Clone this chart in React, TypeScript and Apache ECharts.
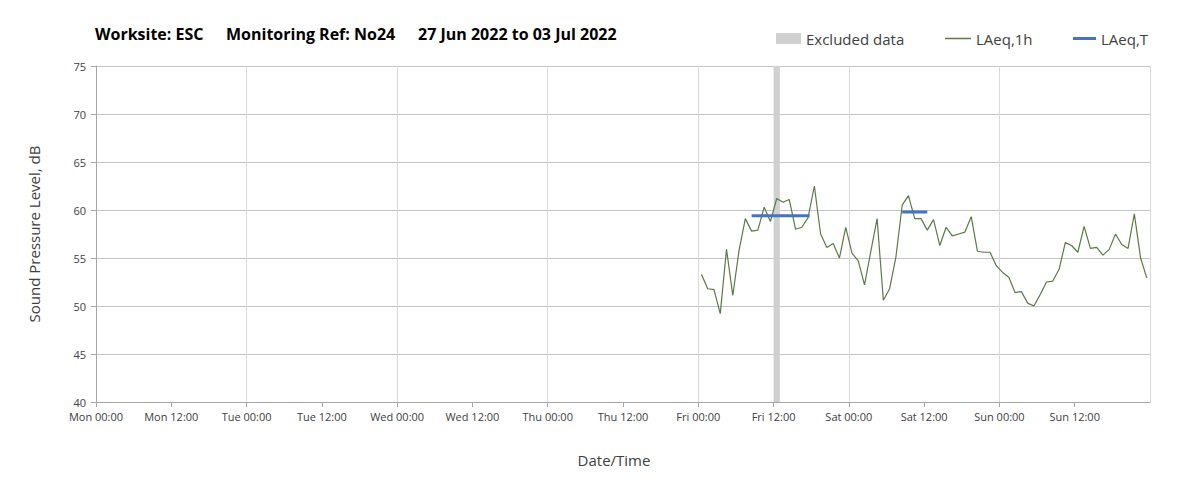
import React, { useEffect, useRef } from "react";
import * as echarts from "echarts";

// Hourly LAeq,1h values, Fri 00:00-01:00 ... Sun 23:00-24:00 (plotted at mid-hour)
const laeq1hStartHour = 96.5; // hours since Mon 00:00
const laeq1h = [
  53.3, 51.8, 51.7, 49.2, 55.9, 51.1, 55.8, 59.1, 57.8, 57.9, 60.3, 58.8,
  61.2, 60.8, 61.1, 58.0, 58.2, 59.2, 62.5, 57.5, 56.1, 56.5, 55.0, 58.2,
  55.5, 54.7, 52.2, 55.7, 59.1, 50.6, 51.8, 55.1, 60.5, 61.5, 59.1, 59.1,
  57.9, 59.0, 56.3, 58.2, 57.3, 57.5, 57.7, 59.3, 55.7, 55.6, 55.6, 54.2,
  53.5, 53.0, 51.4, 51.5, 50.3, 50.0, 51.2, 52.5, 52.6, 53.8, 56.6, 56.3,
  55.6, 58.3, 56.0, 56.1, 55.3, 55.9, 57.5, 56.4, 56.0, 59.6, 55.0, 52.9,
];

// LAeq,T periods: [startHour, endHour, value]
const laeqTPeriods: [number, number, number][] = [
  [104.5, 113.75, 59.4],
  [128.5, 132.5, 59.8],
];

// Excluded data periods: [startHour, endHour]
const excludedPeriods: [number, number][] = [[108, 109]];

const dayNames = ["Mon", "Tue", "Wed", "Thu", "Fri", "Sat", "Sun", "Mon"];
const yTicks = { min: 40, max: 75, interval: 5 };

const titleParts = [
  { text: "Worksite: ESC", x: 95 },
  { text: "Monitoring Ref: No24", x: 226 },
  { text: "27 Jun 2022 to 03 Jul 2022", x: 418 },
];

const FONT = "'Open Sans', Lato, sans-serif";

export default function App() {
  const ref = useRef<HTMLDivElement>(null);
  useEffect(() => {
    if (!ref.current) return;
    const chart = echarts.init(ref.current, null, { renderer: "svg" });

    const lineData = laeq1h.map((v, i) => [laeq1hStartHour + i, v]);
    const tData: any[] = [];
    laeqTPeriods.forEach(([s, e, v], i) => {
      if (i > 0) tData.push([s - 0.01, "-"]);
      tData.push([s, v]);
      tData.push([e, v]);
    });

    const legendText = { fontSize: 15, color: "#404040", fontFamily: FONT };
    const option: any = {
      animation: false,
      backgroundColor: "#fff",
      textStyle: { fontFamily: FONT },
      grid: { left: 96, right: 53, top: 66, bottom: 96, containLabel: false },
      legend: [
        {
          data: ["Excluded data"],
          left: 776,
          top: 31,
          padding: 0,
          icon: "rect",
          itemWidth: 25,
          itemHeight: 11,
          textStyle: legendText,
        },
        {
          data: ["LAeq,1h"],
          left: 945,
          top: 31,
          padding: 0,
          icon: "rect",
          itemWidth: 26,
          itemHeight: 1.5,
          textStyle: legendText,
        },
        {
          data: ["LAeq,T"],
          left: 1073,
          top: 31,
          padding: 0,
          icon: "rect",
          itemWidth: 23,
          itemHeight: 3,
          textStyle: legendText,
        },
      ],
      xAxis: [
        {
          type: "value",
          min: 0,
          max: 168,
          interval: 12,
          name: "Date/Time",
          nameLocation: "middle",
          nameGap: 50,
          nameTextStyle: {
            fontSize: 15,
            color: "#404040",
            fontFamily: FONT,
            padding: [0, 18, 0, 0],
          },
          axisLine: { show: true, lineStyle: { color: "#a6a6a6" } },
          axisTick: { show: true, length: 5, lineStyle: { color: "#a6a6a6" } },
          axisLabel: {
            showMaxLabel: false,
            fontSize: 11,
            color: "#404040",
            margin: 9,
            fontFamily: FONT,
            formatter: (v: number) =>
              dayNames[Math.floor(v / 24)] + (v % 24 === 0 ? " 00:00" : " 12:00"),
          },
          splitLine: { show: false },
        },
        {
          type: "value",
          min: 0,
          max: 168,
          interval: 24,
          position: "bottom",
          axisLine: { show: false },
          axisTick: { show: false },
          axisLabel: { show: false },
          splitLine: { show: true, lineStyle: { color: "#d9d9d9" } },
        },
      ],
      yAxis: {
        type: "value",
        min: yTicks.min,
        max: yTicks.max,
        interval: yTicks.interval,
        name: "Sound Pressure Level, dB",
        nameLocation: "middle",
        nameGap: 55,
        nameTextStyle: { fontSize: 15, color: "#404040", fontFamily: FONT },
        axisLine: { show: true, lineStyle: { color: "#a6a6a6" } },
        axisTick: { show: true, length: 5, lineStyle: { color: "#a6a6a6" } },
        axisLabel: { fontSize: 11, color: "#404040", margin: 10, fontFamily: FONT },
        splitLine: { show: true, lineStyle: { color: "#c4c4c4" } },
      },
      series: [
        {
          name: "Excluded data",
          type: "line",
          data: [],
          itemStyle: { color: "#d0d0d0" },
          markArea: {
            silent: true,
            itemStyle: { color: "#d0d0d0", opacity: 1 },
            data: excludedPeriods.map(([s, e]) => [{ xAxis: s }, { xAxis: e }]),
          },
        },
        {
          name: "LAeq,1h",
          type: "line",
          data: lineData,
          showSymbol: false,
          symbol: "none",
          itemStyle: { color: "#5b7a45" },
          lineStyle: { color: "#5b7a45", width: 1.2 },
          z: 3,
        },
        {
          name: "LAeq,T",
          type: "line",
          data: tData,
          showSymbol: false,
          symbol: "none",
          itemStyle: { color: "#4472c4" },
          lineStyle: { color: "#4472c4", width: 3 },
          z: 4,
        },
      ],
      graphic: titleParts.map((p) => ({
        type: "text",
        left: p.x,
        top: 26,
        style: {
          text: p.text,
          fontSize: 16,
          fontWeight: "bold",
          fill: "#000",
          fontFamily: FONT,
        },
      })),
    };
    chart.setOption(option);
    return () => chart.dispose();
  }, []);

  return (
    <div
      ref={ref}
      style={{ position: "absolute", left: 0, top: 0, width: 1203, height: 498 }}
    />
  );
}
